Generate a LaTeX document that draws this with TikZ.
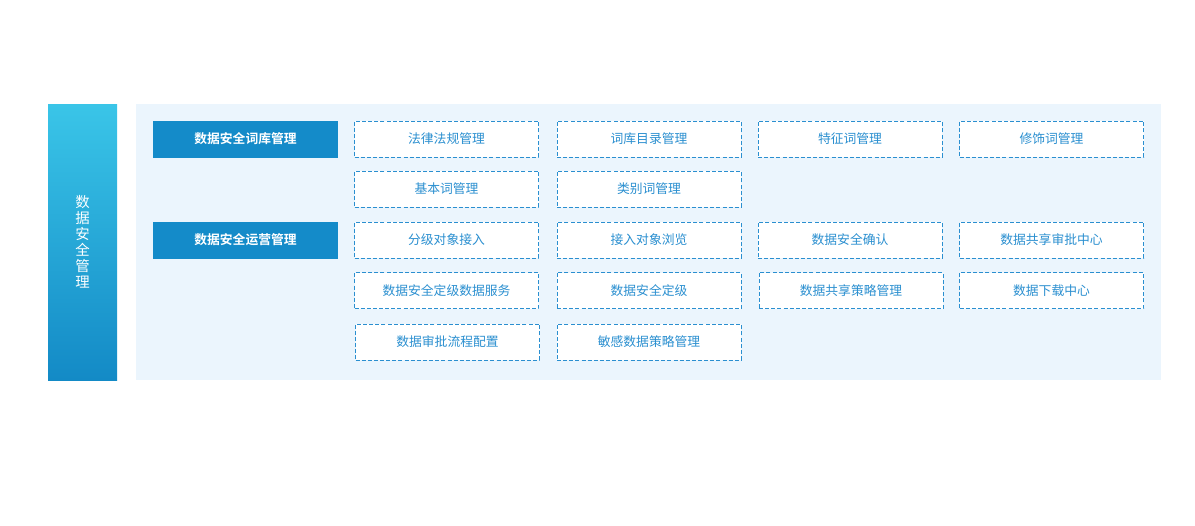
\documentclass[tikz,border=0pt]{standalone}
\usepackage{fontspec}
\setmainfont{Noto Sans CJK SC}[BoldFont={Noto Sans CJK SC Bold}]
\definecolor{bartop}{HTML}{3AC5E8}
\definecolor{barbot}{HTML}{138AC6}
\definecolor{panel}{HTML}{EBF5FD}
\definecolor{head}{HTML}{148BC9}
\definecolor{itemblue}{HTML}{2A8FD0}
\tikzset{
  headbox/.style={fill=head, minimum width=185.5*0.75pt, minimum height=37*0.75pt, inner sep=0pt, text=white, font=\bfseries\fontsize{9.6pt}{11pt}\selectfont},
  itembox/.style={draw=itemblue, fill=white, line width=0.75pt, dash pattern=on 3pt off 1.6pt, minimum width=184*0.75pt, minimum height=36*0.75pt, inner sep=0pt, text=itemblue, font=\fontsize{9.6pt}{11pt}\selectfont}
}
\begin{document}
\begin{tikzpicture}[x=0.75pt, y=-0.75pt]
\useasboundingbox (0,0) rectangle (1195,525);
\shade[top color=bartop, bottom color=barbot] (48,104) rectangle (117,380); % side bar
\fill[panel] (136,104) rectangle (1161,380); % panel
\node[text=white, align=center, font=\fontsize{10.8pt}{12pt}\selectfont] (side) at (82.5,242) {数\\据\\安\\全\\管\\理};
% headers
\node[headbox] (lexicon) at (245.5,139) {数据安全词库管理};
\node[headbox] (operate) at (245.5,240) {数据安全运营管理};
% lexicon items
\node[itembox] (law) at (446.5,139) {法律法规管理};
\node[itembox] (catalog) at (649,139) {词库目录管理};
\node[itembox] (feature) at (850,139) {特征词管理};
\node[itembox] (modifier) at (1051.5,139) {修饰词管理};
\node[itembox] (basic) at (446.5,189) {基本词管理};
\node[itembox] (category) at (649,189) {类别词管理};
% operation items
\node[itembox] (access) at (446.5,240) {分级对象接入};
\node[itembox] (browse) at (649,240) {接入对象浏览};
\node[itembox] (confirm) at (850,240) {数据安全确认};
\node[itembox] (approve) at (1051.5,240) {数据共享审批中心};
\node[itembox] (service) at (446.5,290.5) {数据安全定级数据服务};
\node[itembox] (grade) at (649,290.5) {数据安全定级};
\node[itembox] (policy) at (851,290.5) {数据共享策略管理};
\node[itembox] (download) at (1051.5,290.5) {数据下载中心};
\node[itembox] (flow) at (447.5,342) {数据审批流程配置};
\node[itembox] (sensitive) at (649,342) {敏感数据策略管理};
\end{tikzpicture}
\end{document}
